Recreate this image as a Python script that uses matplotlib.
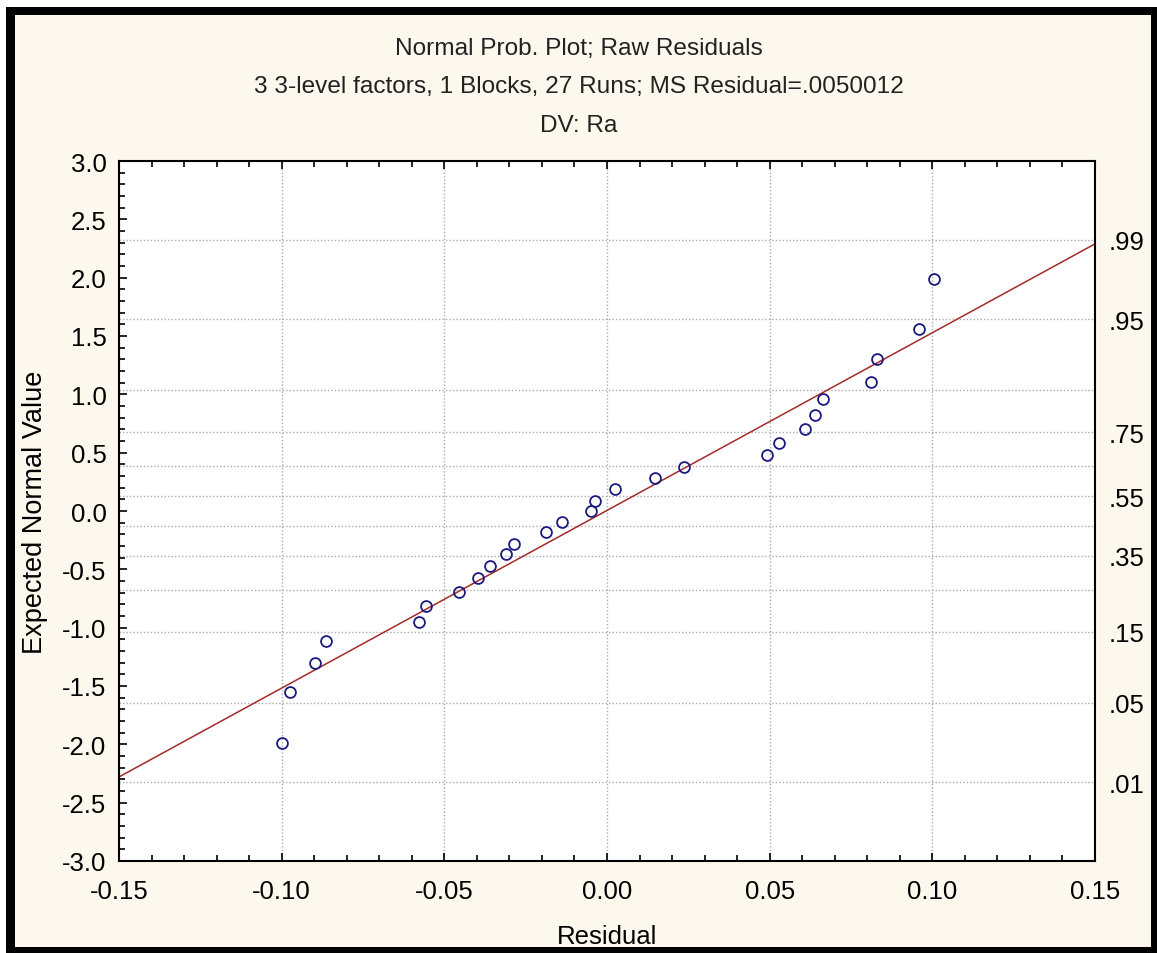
import numpy as np
import matplotlib
matplotlib.use("Agg")
import matplotlib.pyplot as plt
from matplotlib.patches import Rectangle
from matplotlib.ticker import MultipleLocator, FixedLocator
from statistics import NormalDist

# residuals (x) and expected normal values (y)
residual = [-0.0998, -0.0973, -0.0898, -0.0865, -0.0579, -0.0556, -0.0456,
            -0.0396, -0.0359, -0.0311, -0.0287, -0.0189, -0.0137, -0.0049,
            -0.0037, 0.0024, 0.0147, 0.0238, 0.0493, 0.0530, 0.0610,
            0.0638, 0.0663, 0.0811, 0.0830, 0.0960, 0.1004]
expected = [-1.99, -1.55, -1.30, -1.11, -0.95, -0.81, -0.69, -0.57, -0.47,
            -0.37, -0.28, -0.18, -0.09, 0.00, 0.09, 0.19, 0.28, 0.38, 0.48,
            0.58, 0.70, 0.82, 0.96, 1.11, 1.30, 1.56, 1.99]

# fitted line
fit_intercept = 0.005
fit_slope = 15.23

# right hand probability axis
prob_labels = [.01, .05, .15, .35, .55, .75, .95, .99]
prob_grid = [.01, .05, .15, .25, .35, .45, .55, .65, .75, .85, .95, .99]

title_lines = ["Normal Prob. Plot; Raw Residuals",
               "3 3-level factors, 1 Blocks, 27 Runs; MS Residual=.0050012",
               "DV: Ra"]

W, H = 1157, 954
cream = "#fcf8ed"
plt.rcParams["font.family"] = ["Liberation Sans", "DejaVu Sans"]

fig = plt.figure(figsize=(W / 100, H / 100), dpi=100, facecolor="white")

# black frame with cream panel
fig.patches.append(Rectangle((6 / W, 0), (W - 6) / W, 946 / H, transform=fig.transFigure,
                             facecolor="black", edgecolor="none", zorder=-2))
fig.patches.append(Rectangle((15 / W, 6 / H), (1151 - 15) / W, (938 - 6) / H,
                             transform=fig.transFigure, facecolor=cream,
                             edgecolor="none", zorder=-1))

ax = fig.add_axes([119 / W, 1 - 862 / H, (1095 - 119) / W, (862 - 162) / H])
ax.set_facecolor("white")
ax.set_xlim(-0.15, 0.15)
ax.set_ylim(-3.0, 3.0)

nd = NormalDist()
grid_z = [nd.inv_cdf(p) for p in prob_grid]
ax.hlines(grid_z, -0.15, 0.15, colors="#ababab", linestyles=(0, (1, 1.5)),
          linewidth=1, zorder=0.5)
ax.xaxis.set_major_locator(MultipleLocator(0.05))
ax.xaxis.set_minor_locator(MultipleLocator(0.01))
ax.yaxis.set_major_locator(MultipleLocator(0.5))
ax.yaxis.set_minor_locator(MultipleLocator(0.1))
ax.grid(axis="x", which="major", color="#ababab", linestyle=(0, (1, 1.5)),
        linewidth=1, zorder=0.5)
ax.set_axisbelow(True)

ax.axline((0, fit_intercept), slope=fit_slope, color="#a52a2a", linewidth=1.1, zorder=2)
ax.plot(residual, expected, linestyle="none", marker="o", markersize=7.8,
        markerfacecolor="none", markeredgecolor="#1a1a80", markeredgewidth=1.3, zorder=3)

ax.xaxis.set_major_formatter(plt.FuncFormatter(lambda v, p: f"{v:.2f}"))
ax.yaxis.set_major_formatter(plt.FuncFormatter(lambda v, p: f"{v:.1f}"))
ax.tick_params(axis="both", which="both", direction="in", top=True, right=True,
               colors="black", labelsize=18.5, width=1.2)
ax.tick_params(axis="both", which="major", length=6)
ax.tick_params(axis="both", which="minor", length=4)
ax.tick_params(axis="x", which="major", pad=13)
ax.tick_params(axis="y", which="major", pad=9)
for sp in ax.spines.values():
    sp.set_linewidth(1.5)
    sp.set_color("black")

tw = ax.twinx()
tw.set_ylim(ax.get_ylim())
tw.yaxis.set_major_locator(FixedLocator([nd.inv_cdf(p) for p in prob_labels]))
tw.set_yticklabels([f"{p:.2f}"[1:] for p in prob_labels])
tw.tick_params(axis="y", length=0, pad=10, labelsize=18.5)
for sp in tw.spines.values():
    sp.set_visible(False)

ax.set_xlabel("Residual", fontsize=18.5, labelpad=15)
ax.set_ylabel("Expected Normal Value", fontsize=19.5, labelpad=10)

for i, line in enumerate(title_lines):
    fig.text(0.5, 1 - (49 + 38.5 * i) / H, line, ha="center", va="center",
             fontsize=17.6, color="#222222")

fig.savefig("out.png", dpi=100, facecolor=fig.get_facecolor())
